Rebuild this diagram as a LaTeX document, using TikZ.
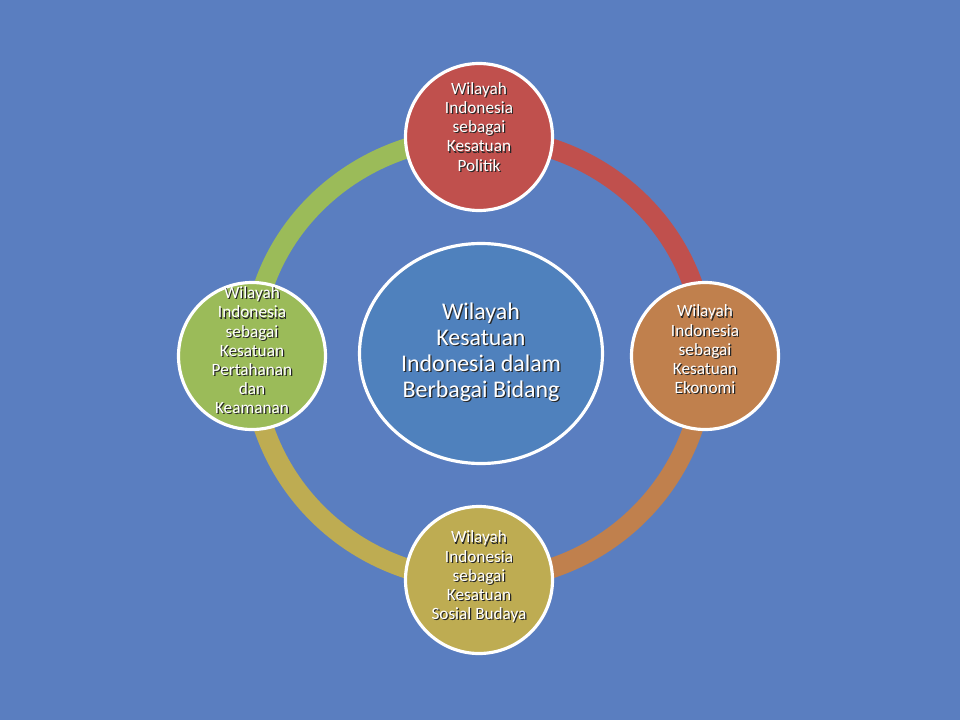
\documentclass[tikz,border=0pt]{standalone}
\usepackage{fontspec}
\setmainfont{Carlito}
\usepackage{xcolor}
\usetikzlibrary{shapes,positioning,calc,backgrounds}

\definecolor{slidebg}{RGB}{90,126,192}
\definecolor{hubblue}{RGB}{79,129,189}
\definecolor{polred}{RGB}{192,80,77}
\definecolor{ekoorange}{RGB}{192,128,77}
\definecolor{sosolive}{RGB}{190,172,82}
\definecolor{hankamgreen}{RGB}{155,187,89}

% white text with a dark drop shadow
\newcommand{\shadowed}[1]{%
  \leavevmode\rlap{\kern0.7pt\raisebox{-0.7pt}{\color{black!85}\begin{tabular}{@{}c@{}}#1\end{tabular}}}%
  \begin{tabular}{@{}c@{}}#1\end{tabular}}

\pgfdeclarelayer{ring}
\pgfsetlayers{background,ring,main}

\begin{document}
\begin{tikzpicture}[
  hub/.style={ellipse, draw=white, line width=1.8pt, fill=hubblue,
              minimum width=4.86cm, minimum height=4.4cm, inner sep=0pt,
              text=white, font=\fontsize{13.6}{14.8}\selectfont},
  sat/.style={circle, draw=white, line width=1.8pt, minimum size=2.94cm,
              inner sep=0pt},
  sattext/.style={text=white, font=\fontsize{9.8}{10.9}\selectfont},
  link/.style={line width=0.4cm},
]
  \useasboundingbox (-9.62,7.07) rectangle (9.58,-7.33);
  \begin{scope}[on background layer]
    \fill[slidebg] (-9.62,7.07) rectangle (9.58,-7.33);
  \end{scope}

  \node[hub] (hub) at (0,0) {\shadowed{Wilayah\\Kesatuan\\Indonesia dalam\\Berbagai Bidang}};

  \node[sat, fill=polred] (politik) at (-0.04,4.33) {};
  \node[sat, fill=ekoorange] (ekonomi) at (4.48,-0.05) {};
  \node[sat, fill=sosolive] (sosbud) at (-0.04,-4.53) {};
  \node[sat, fill=hankamgreen] (hankam) at (-4.58,-0.05) {};

  \node[sattext, yshift=0.15cm] (politik-txt) at (politik)
    {\shadowed{Wilayah\\Indonesia\\sebagai\\Kesatuan\\Politik}};
  \node[sattext, yshift=0.08cm] (ekonomi-txt) at (ekonomi)
    {\shadowed{Wilayah\\Indonesia\\sebagai\\Kesatuan\\Ekonomi}};
  \node[sattext, yshift=0.04cm] (sosbud-txt) at (sosbud)
    {\shadowed{Wilayah\\Indonesia\\sebagai\\Kesatuan\\Sosial Budaya}};
  \node[sattext, yshift=0.06cm] (hankam-txt) at (hankam)
    {\shadowed{Wilayah\\Indonesia\\sebagai\\Kesatuan\\Pertahanan\\dan\\Keamanan}};

  \begin{pgfonlayer}{ring}
    \draw[link, polred] (politik.center) to[out=0, in=90] (ekonomi.center);
    \draw[link, ekoorange] (ekonomi.center) to[out=-90, in=0] (sosbud.center);
    \draw[link, sosolive] (sosbud.center) to[out=180, in=-90] (hankam.center);
    \draw[link, hankamgreen] (hankam.center) to[out=90, in=180] (politik.center);
  \end{pgfonlayer}
\end{tikzpicture}
\end{document}
